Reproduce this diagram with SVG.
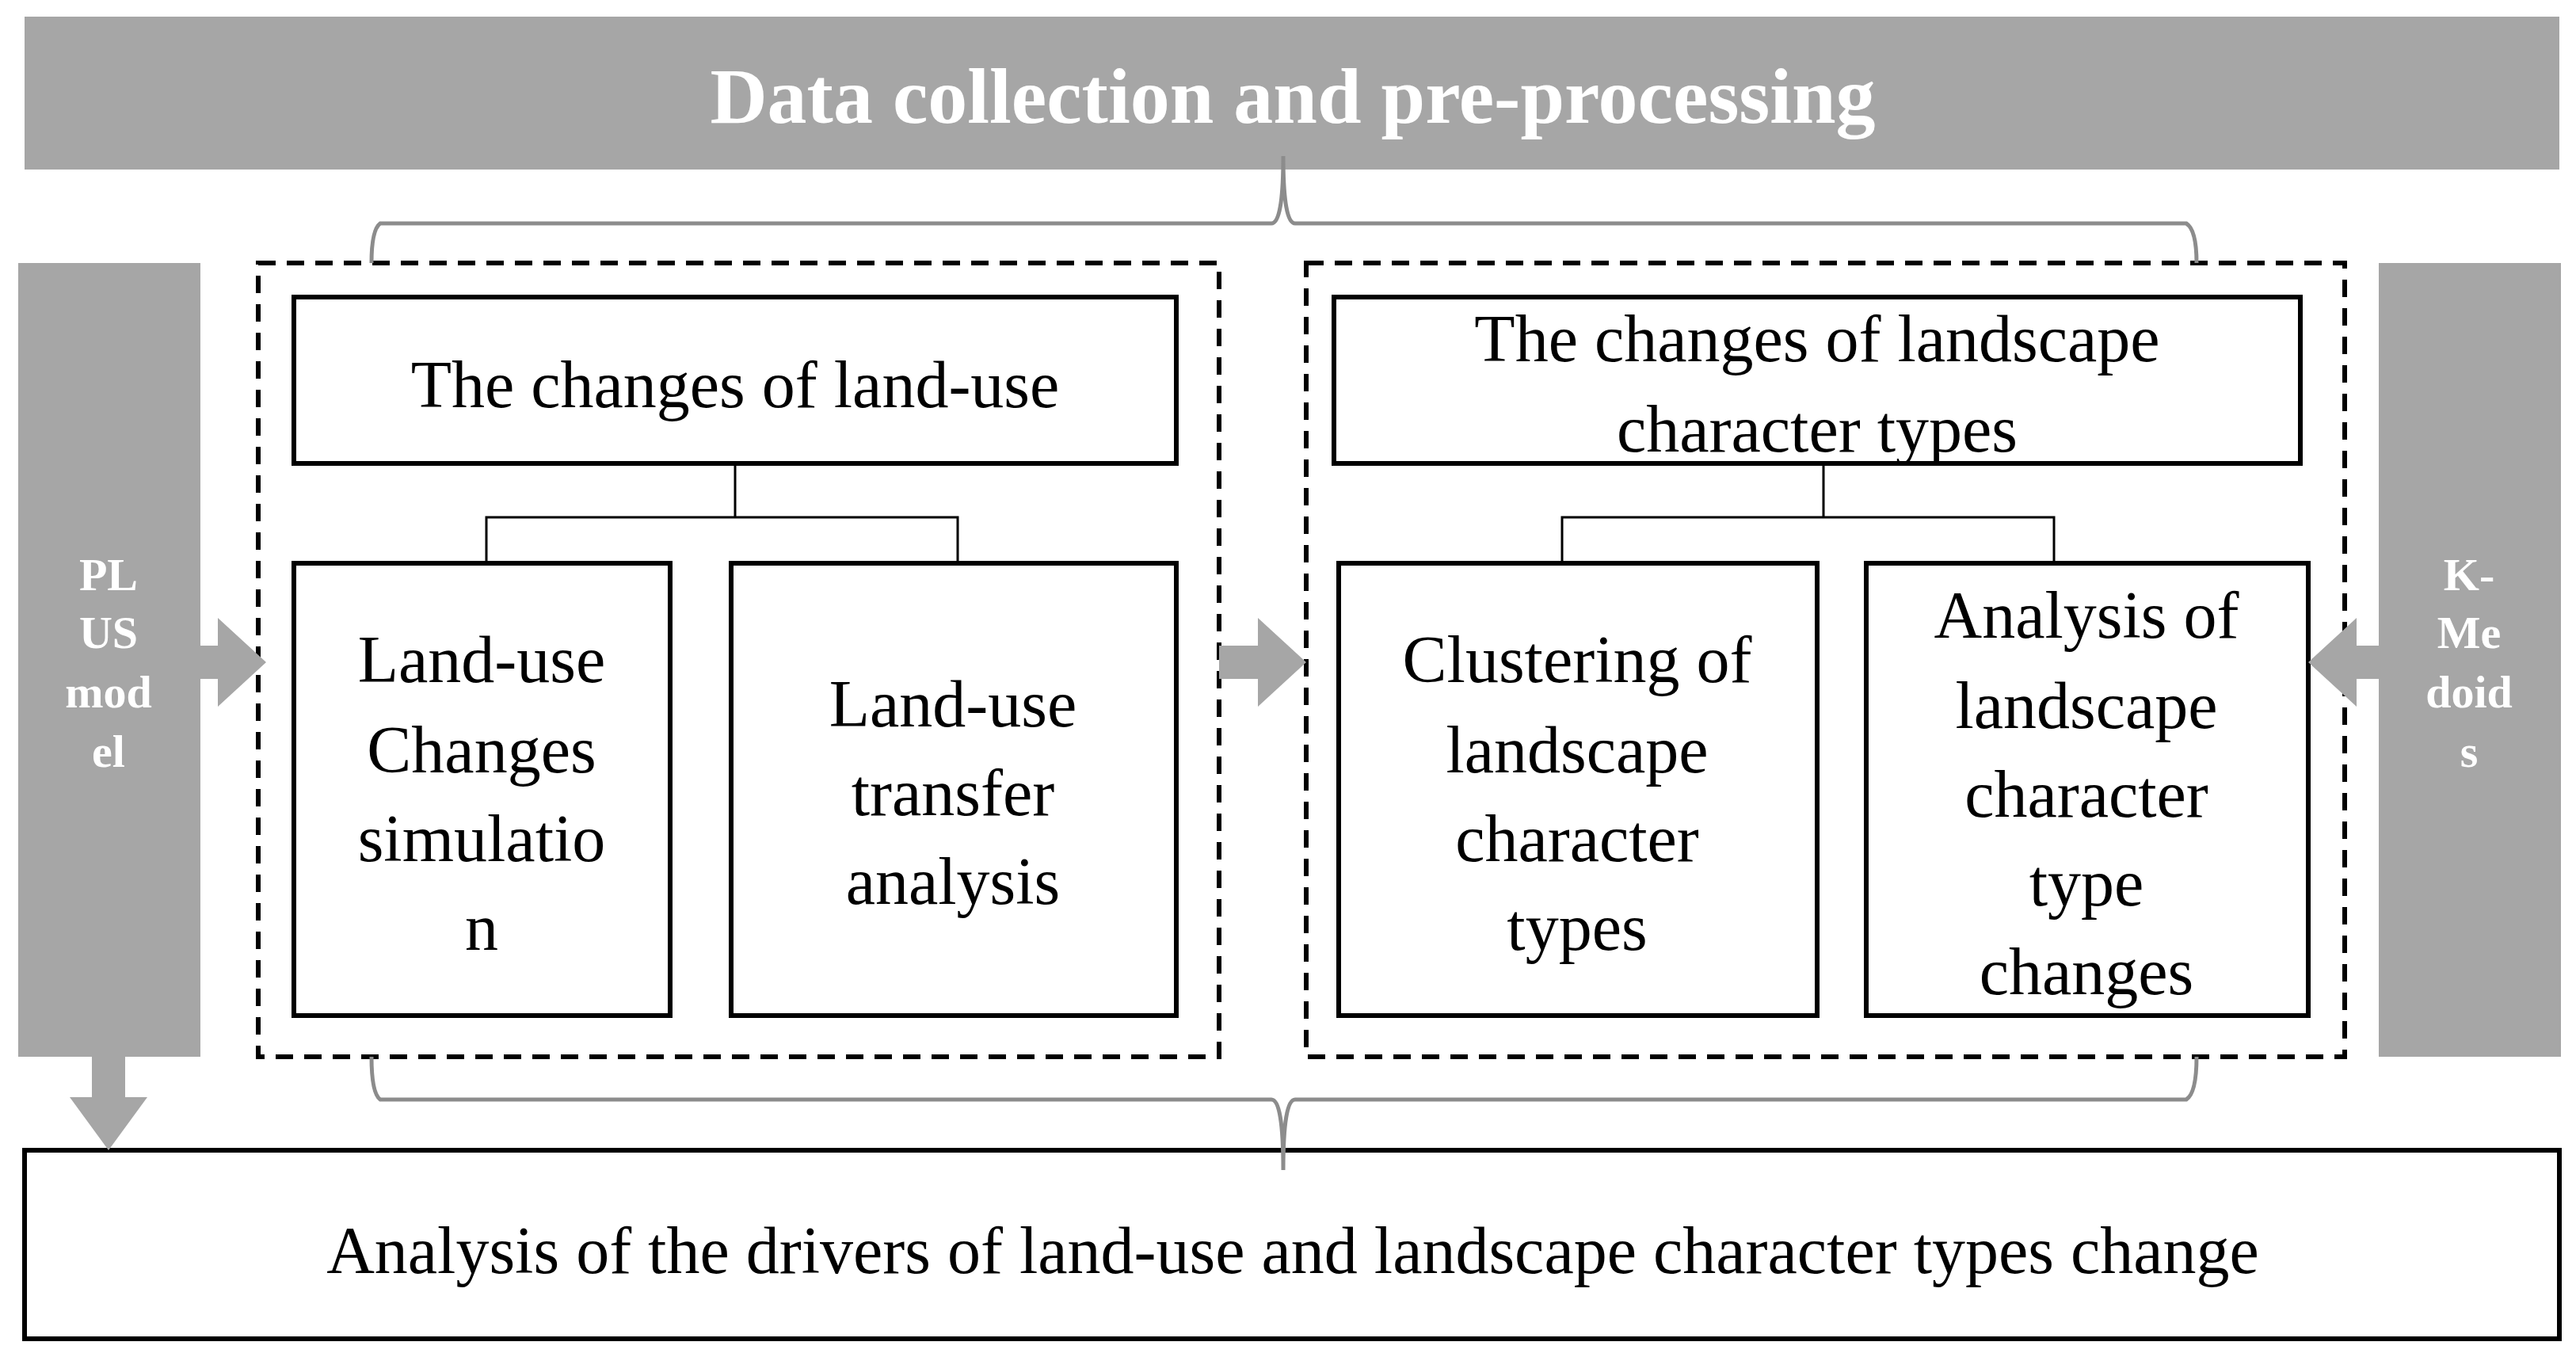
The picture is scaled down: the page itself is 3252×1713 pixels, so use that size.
<svg xmlns="http://www.w3.org/2000/svg" width="3252" height="1713" viewBox="0 0 3252 1713">
<style>
.t{font-family:"Liberation Serif","Times New Roman",serif;font-size:84px;fill:#000;text-anchor:middle}
.w{font-family:"Liberation Serif","Times New Roman",serif;font-weight:bold;fill:#fff;text-anchor:middle}
.box{fill:#fff;stroke:#000;stroke-width:6}
.dash{fill:none;stroke:#000;stroke-width:6;stroke-dasharray:22 14}
.g{fill:#a6a6a6}
.br{fill:none;stroke:#8c8c8c;stroke-width:5}
.ln{fill:none;stroke:#000;stroke-width:3}
</style>
<rect width="3252" height="1713" fill="#fff"/>
<g id="top"><rect class="g" x="31" y="21" width="3200" height="193"/><text class="w" x="1632" y="155" font-size="100">Data collection and pre-processing</text></g>
<g id="plus"><rect class="g" x="23" y="332" width="230" height="1002"/>
<text class="w" font-size="58" x="137" y="745">PL</text><text class="w" font-size="58" x="137" y="818">US</text><text class="w" font-size="58" x="137" y="893">mod</text><text class="w" font-size="58" x="137" y="968">el</text></g>
<g id="kmed"><rect class="g" x="3003" y="332" width="230" height="1002"/>
<text class="w" font-size="58" x="3117" y="745">K-</text><text class="w" font-size="58" x="3117" y="818">Me</text><text class="w" font-size="58" x="3117" y="893">doid</text><text class="w" font-size="58" x="3117" y="968">s</text></g>
<g id="groupL"><rect class="dash" x="326" y="332" width="1213" height="1002"/></g>
<g id="groupR"><rect class="dash" x="1649" y="332" width="1311" height="1002"/></g>
<g id="lu"><rect class="box" x="371" y="375" width="1114" height="210"/><text class="t" x="928" y="514">The changes of land-use</text></g>
<g id="luc"><rect class="box" x="371" y="711" width="475" height="571"/>
<text class="t" x="608" y="861">Land-use</text><text class="t" x="608" y="975">Changes</text><text class="t" x="608" y="1087">simulatio</text><text class="t" x="608" y="1199">n</text></g>
<g id="lut"><rect class="box" x="923" y="711" width="562" height="571"/>
<text class="t" x="1203" y="917">Land-use</text><text class="t" x="1203" y="1029">transfer</text><text class="t" x="1203" y="1141">analysis</text></g>
<g id="lct"><rect class="box" x="1684" y="375" width="1220" height="210"/><text class="t" x="2294" y="456">The changes of landscape</text><text class="t" x="2294" y="570">character types</text></g>
<g id="clu"><rect class="box" x="1690" y="711" width="604" height="571"/>
<text class="t" x="1991" y="861">Clustering of</text><text class="t" x="1991" y="975">landscape</text><text class="t" x="1991" y="1087">character</text><text class="t" x="1991" y="1199">types</text></g>
<g id="ana"><rect class="box" x="2356" y="711" width="558" height="571"/>
<text class="t" x="2634" y="805">Analysis of</text><text class="t" x="2634" y="919">landscape</text><text class="t" x="2634" y="1031">character</text><text class="t" x="2634" y="1143">type</text><text class="t" x="2634" y="1255">changes</text></g>
<g id="bottom"><rect class="box" x="31" y="1452" width="3200" height="238"/><text class="t" x="1632" y="1607">Analysis of the drivers of land-use and landscape character types change</text></g>
<g id="connectors">
<path class="ln" d="M928 585V653M614 711V653H1209V711"/>
<path class="ln" d="M2302 585V653M1972 711V653H2593V711"/>
<path class="br" d="M469 332Q469 290 480 282H1605Q1620 282 1620 197Q1620 282 1635 282H2760Q2773 290 2773 332"/>
<path class="br" d="M469 1334Q469 1380 480 1388H1605Q1620 1388 1620 1477Q1620 1388 1635 1388H2760Q2773 1380 2773 1334"/>
<path class="g" d="M253 815H275V780L336 836L275 892V857H253Z"/>
<path class="g" d="M1539 815H1588V780L1649 836L1588 892V857H1539Z"/>
<path class="g" d="M3003 815H2975V780L2914 836L2975 892V857H3003Z"/>
<path class="g" d="M116 1334H158V1385H186L137 1452L88 1385H116Z"/>
</g>
</svg>
